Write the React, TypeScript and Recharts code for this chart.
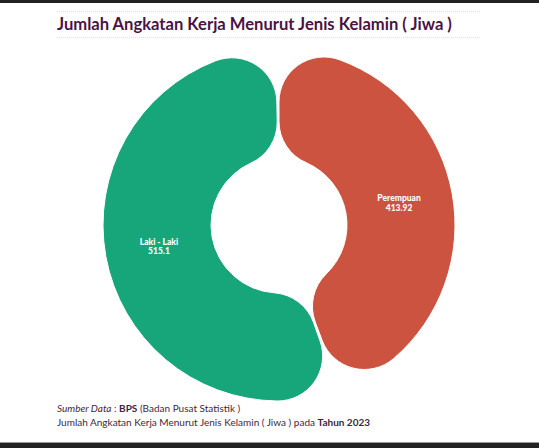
import React from "react";
import { PieChart, Pie, Cell } from "recharts";

const categories = ["Perempuan", "Laki - Laki"];
const values = [413.92, 515.1];
const colors = ["#cb533f", "#17a57a"];

const data = categories.map((name, i) => ({ name, value: values[i] }));

const RAD = Math.PI / 180;

const renderLabel = (props: any) => {
  const { cx, cy, midAngle, innerRadius, outerRadius, name, value } = props;
  const r = (innerRadius + outerRadius) / 2;
  const x = cx + r * Math.cos(-midAngle * RAD);
  const y = cy + r * Math.sin(-midAngle * RAD);
  return (
    <text
      x={x}
      y={y}
      textAnchor="middle"
      fill="#ffffff"
      fontFamily="Lato, sans-serif"
      fontWeight={900}
      fontSize={8.5}
    >
      <tspan x={x} dy={-2}>{name}</tspan>
      <tspan x={x} dy={9.5}>{value}</tspan>
    </text>
  );
};

export default function App() {
  return (
    <div
      style={{
        position: "absolute",
        left: 0,
        top: 0,
        width: 539,
        height: 448,
        background: "#ffffff",
        overflow: "hidden",
        fontFamily: "Lato, sans-serif",
      }}
    >
      <div style={{ position: "absolute", left: 0, top: 0, width: 539, height: 3, background: "#222" }} />
      <div style={{ position: "absolute", left: 0, top: 443, width: 539, height: 5, background: "#222" }} />
      <div style={{ position: "absolute", left: 0, top: 442, width: 539, height: 1, background: "#999" }} />
      <div
        style={{
          position: "absolute",
          left: 57,
          top: 11,
          width: 423,
          borderTop: "1px dotted #e0e0e0",
        }}
      />
      <div
        style={{
          position: "absolute",
          left: 57,
          top: 37,
          width: 423,
          borderTop: "1px dotted #e0e0e0",
        }}
      />
      <div
        style={{
          position: "absolute",
          left: 57,
          top: 14,
          fontSize: 16.6,
          fontWeight: 700,
          color: "#4a1343",
          whiteSpace: "nowrap",
          lineHeight: "20px",
        }}
      >
        Jumlah Angkatan Kerja Menurut Jenis Kelamin ( Jiwa )
      </div>
      <div style={{ position: "absolute", left: 0, top: 0 }}>
        <PieChart width={539} height={448}>
          <Pie
            data={data}
            dataKey="value"
            nameKey="name"
            cx={274}
            cy={220}
            innerRadius={68}
            outerRadius={176}
            startAngle={90}
            endAngle={-270}
            cornerRadius={45}
            paddingAngle={1}
            stroke="#ffffff"
            strokeWidth={1}
            label={renderLabel}
            labelLine={false}
            isAnimationActive={false}
          >
            {data.map((d, i) => (
              <Cell key={d.name} fill={colors[i]} />
            ))}
          </Pie>
        </PieChart>
      </div>
      <div
        style={{
          position: "absolute",
          left: 57,
          top: 401,
          fontSize: 10,
          color: "#3f1f3c",
          whiteSpace: "nowrap",
          lineHeight: "14px",
        }}
      >
        <div>
          <i>Sumber Data</i> : <b>BPS</b> (Badan Pusat Statistik )
        </div>
        <div>
          Jumlah Angkatan Kerja Menurut Jenis Kelamin ( Jiwa ) pada <b>Tahun 2023</b>
        </div>
      </div>
    </div>
  );
}
